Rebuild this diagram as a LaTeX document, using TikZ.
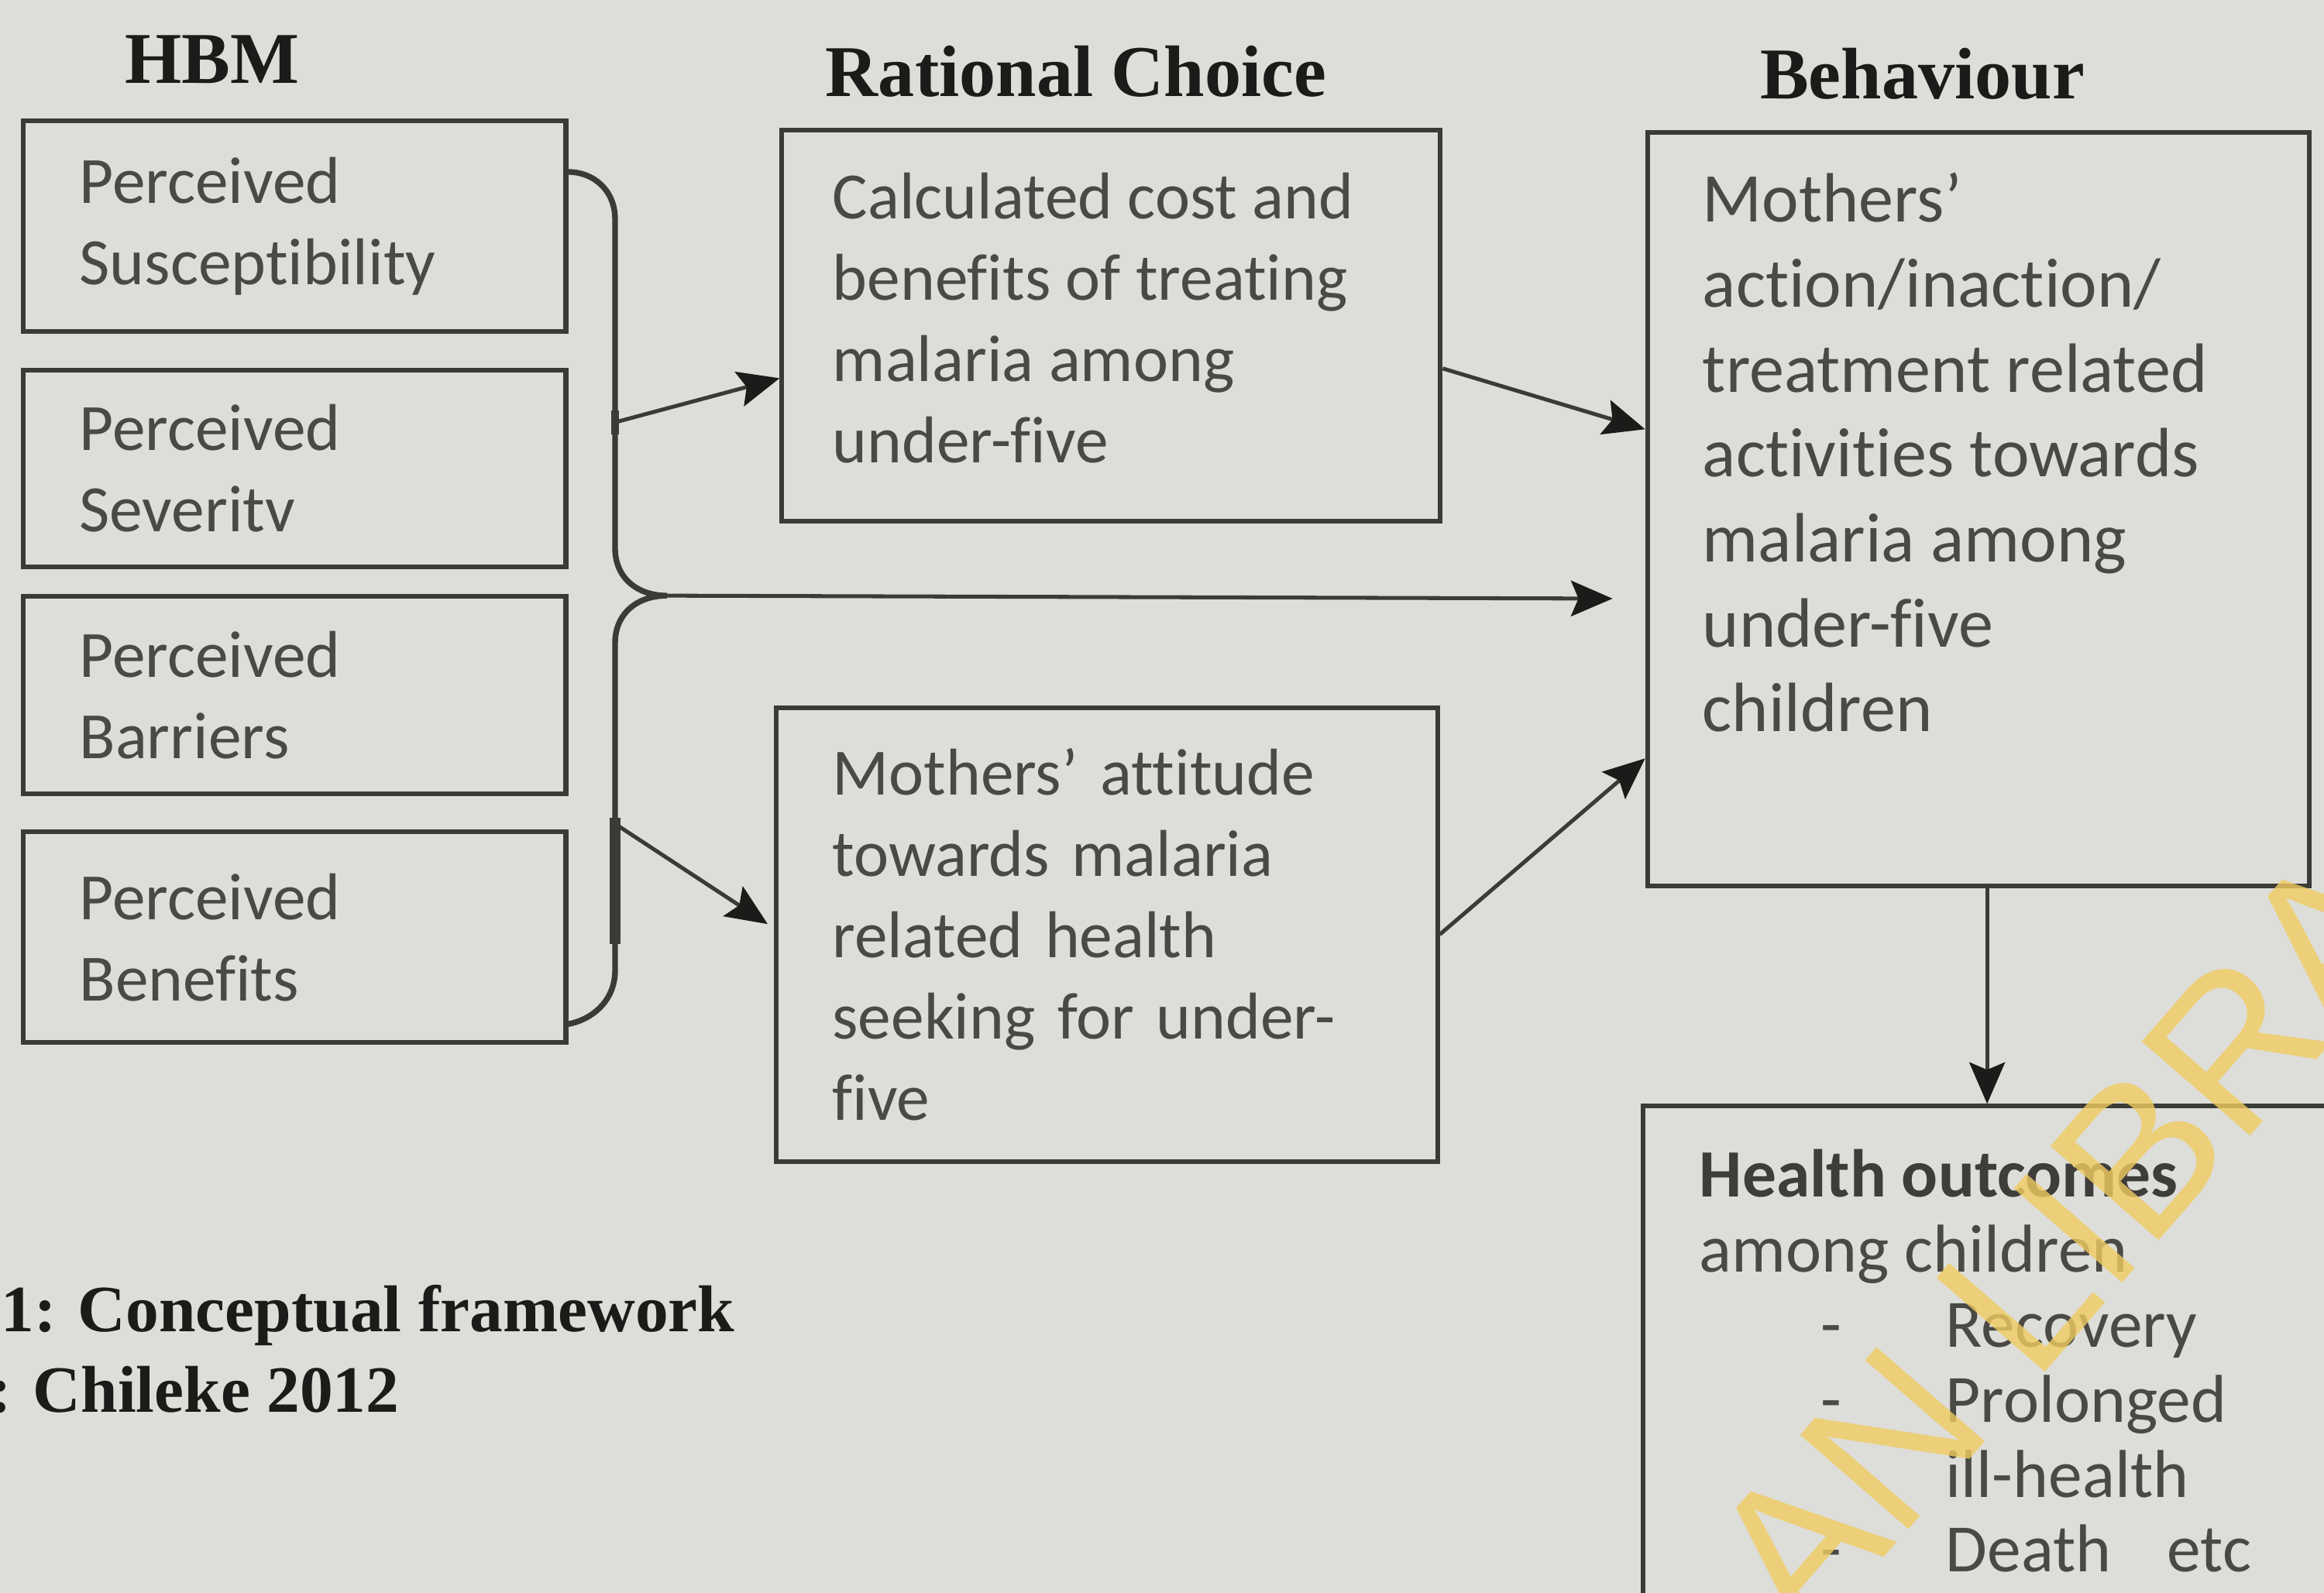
\documentclass[tikz,border=0pt]{standalone}
\usepackage{fontspec}
\setmainfont{Carlito}[Ligatures={NoCommon,NoDiscretionary,NoContextual}]
\newfontfamily\serifgras{Liberation Serif}
\newfontfamily\filigrane{Liberation Sans}
\usetikzlibrary{arrows.meta,calc}
\definecolor{cffond}{HTML}{DDDED9}
\definecolor{cftrait}{HTML}{3A3A36}
\definecolor{cftexte}{HTML}{4A4944}
\definecolor{cfnoir}{HTML}{1C1B19}
\definecolor{cfjaune}{HTML}{F0CC60}

\begin{document}
\begin{tikzpicture}[x=0.01cm,y=-0.01cm,
  boite/.style={draw=cftrait,line width=0.9pt,anchor=north west,inner ysep=0pt},
  texte/.style={text=cftexte,font=\fontsize{12.7}{15.6}\selectfont,align=left},
  titre/.style={text=cfnoir,font=\serifgras\bfseries\fontsize{14}{16}\selectfont,inner sep=0pt},
  fleche/.style={draw=cftrait,line width=0.75pt,-{Stealth[length=2.8mm,width=2.4mm,inset=0.5mm,color=cfnoir]}}]
  \useasboundingbox (0,0) rectangle (1568,1075);
  \fill[cffond] (0,0) rectangle (1568,1075);
  \begin{scope}
  \clip (0,0) rectangle (1568,1075);
  % titres
  \node[titre] (thbm) at (143,40) {HBM};
  \node[titre] (trat) at (726,48) {Rational Choice};
  \node[titre] (tbeh) at (1297,50) {Behaviour};
  % boites HBM : nom / haut / hauteur / mot
  \foreach \n/\y/\h/\m in {sus/80/142/Susceptibility, sev/248/133/Severitv, bar/401/133/Barriers, ben/560/142/Benefits} {
    \node[boite,texte,inner xsep=0.38cm,text width=2.9cm,minimum width=3.66cm,minimum height=\h*0.01cm] (\n) at (14,\y) {Perceived\\\m};
  }
  % rational choice
  \node[boite,minimum width=4.44cm,minimum height=2.64cm] (calc) at (526,86) {};
  \node[texte,anchor=north west,inner sep=0pt] (calctxt) at ([shift={(0.35cm,-0.3cm)}]calc.north west)
    {Calculated cost and\\benefits of treating\\malaria among\\under-five};
  \node[boite,texte,inner xsep=0.38cm,text width=3.7cm,minimum width=4.46cm,minimum height=3.06cm] (att) at (522,476)
    {Mothers’ attitude\\towards malaria\\related health\\seeking for under-\\five};
  % behaviour
  \node[boite,minimum width=4.46cm,minimum height=5.08cm] (beh) at (1110,88) {};
  \node[texte,font=\fontsize{13.4}{16.3}\selectfont,anchor=north west,inner sep=0pt] (behtxt) at ([shift={(0.38cm,-0.28cm)}]beh.north west)
    {Mothers’\\action/inaction/\\treatment related\\activities towards\\malaria among\\under-five\\children};
  % resultats
  \node[boite,minimum width=6cm,minimum height=4cm] (san) at (1107,745) {};
  \node[texte,font=\fontsize{13}{14.4}\selectfont,anchor=north west,inner sep=0pt] (santxt) at ([shift={(0.39cm,-0.3cm)}]san.north west)
    {{\bfseries\color{cfnoir!85}Health outcomes}\\among children\\
     \makebox[1.66cm][l]{\hspace*{0.82cm}-}Recovery\\
     \makebox[1.66cm][l]{\hspace*{0.82cm}-}Prolonged\\
     \makebox[1.66cm][l]{}ill-health\\
     \makebox[1.66cm][l]{\hspace*{0.82cm}-}Death\hspace{0.6em} etc};
  % accolade
  \coordinate (pointe) at (450,402);
  \coordinate (hb) at (415,285);
  \coordinate (lb) at (415,556);
  \draw[cftrait,line width=1.1pt] ([yshift=-0.36cm]sus.north east) .. controls (400,116) and (415,128) .. (415,148)
    -- (415,370) .. controls (415,390) and (430,402) .. (pointe)
    .. controls (430,402) and (415,414) .. (415,434) -- (415,655)
    .. controls (415,675) and (400,688) .. ([yshift=0.14cm]ben.south east);
  \draw[cftrait,line width=2pt] (415,552) -- (415,637);
  \draw[cftrait,line width=1.6pt] (415,277) -- (415,293);
  % fleches
  \draw[fleche] (hb) -- ([yshift=0.98cm]calc.south west);
  \draw[fleche] (lb) -- ([xshift=-0.04cm,yshift=0.07cm]att.west);
  \draw[fleche] (pointe) -- ($(beh.west |- pointe)+(-22,2)$);
  \draw[fleche] ([yshift=-0.29cm]calc.east) -- ([yshift=0.54cm]beh.west);
  \draw[fleche] (att.east) -- ([yshift=-1.68cm]beh.west);
  \draw[fleche] ([xshift=0.06cm]beh.south) -- ([xshift=0.06cm]beh.south |- san.north);
  % legende
  \node[titre,font=\serifgras\bfseries\fontsize{12.7}{15}\selectfont,anchor=west] (leg1) at (0,888) {1: Conceptual framework};
  \node[titre,font=\serifgras\bfseries\fontsize{12.7}{15}\selectfont,anchor=west] (leg2) at (-8,938) {: Chileke 2012};
  % filigrane
  \node[text=cfjaune,opacity=0.8,font=\filigrane\fontsize{40}{40}\selectfont,rotate=49,anchor=base west,inner sep=0pt] (filig) at (1218,1112) {AN LIBRA};
  \end{scope}
\end{tikzpicture}
\end{document}
